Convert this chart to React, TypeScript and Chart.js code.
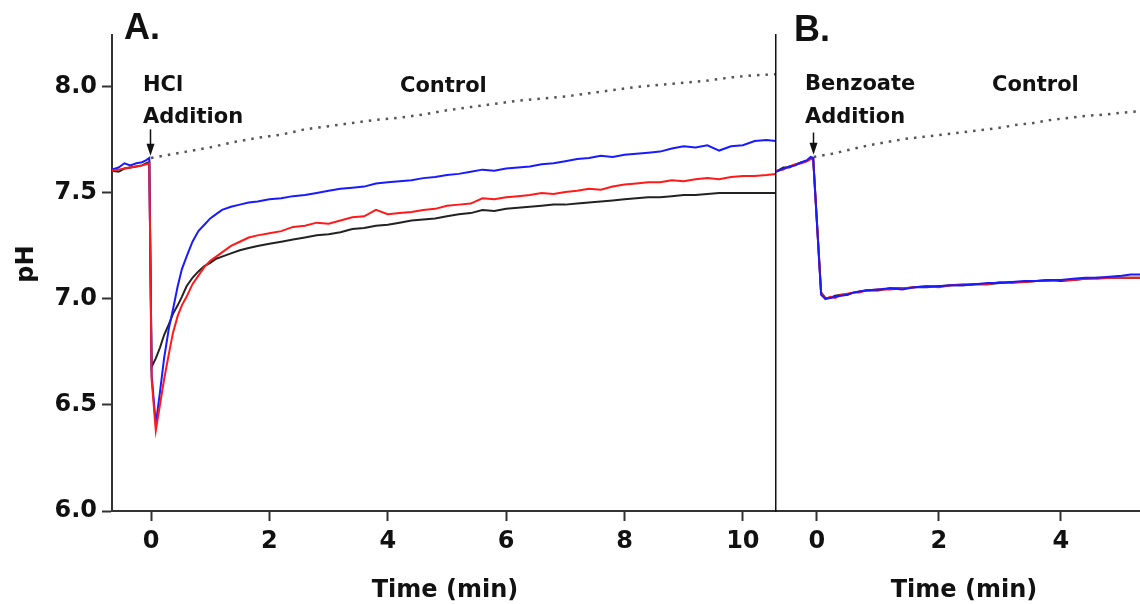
import React, { useEffect, useRef } from "react";
import { Chart, registerables } from "chart.js";
Chart.register(...registerables);

// ---------- Panel A data (time in min, pH) ----------
const timeA = [
  -0.66, -0.55, -0.45, -0.35, -0.25, -0.15, -0.08, -0.03,
  0.01, 0.08, 0.15, 0.22, 0.3, 0.37, 0.45, 0.52, 0.6, 0.7, 0.8, 0.9, 1.0, 1.1, 1.2, 1.35, 1.5, 1.65, 1.8,
  2.0, 2.2, 2.4, 2.6, 2.8, 3.0, 3.2, 3.4, 3.6, 3.8, 4.0, 4.2, 4.4, 4.6, 4.8, 5.0, 5.2, 5.4, 5.6, 5.8,
  6.0, 6.2, 6.4, 6.6, 6.8, 7.0, 7.2, 7.4, 7.6, 7.8, 8.0, 8.2, 8.4, 8.6, 8.8, 9.0, 9.2, 9.4, 9.6, 9.8,
  10.0, 10.2, 10.4, 10.56,
];
const redA = [
  7.605, 7.61, 7.615, 7.62, 7.625, 7.63, 7.635, 7.64,
  6.62, 6.38, 6.5, 6.62, 6.74, 6.84, 6.92, 6.97, 7.01, 7.07, 7.11, 7.15, 7.18, 7.2, 7.22, 7.25, 7.27, 7.29, 7.3,
  7.31, 7.32, 7.34, 7.345, 7.36, 7.355, 7.37, 7.385, 7.39, 7.42, 7.4, 7.405, 7.41, 7.42, 7.425, 7.44, 7.445, 7.45, 7.475, 7.47,
  7.48, 7.485, 7.49, 7.5, 7.495, 7.505, 7.51, 7.52, 7.515, 7.53, 7.54, 7.545, 7.55, 7.55, 7.56, 7.555, 7.565, 7.57, 7.565, 7.575,
  7.58, 7.58, 7.585, 7.59,
];
const blueA = [
  7.61, 7.62, 7.64, 7.63, 7.64, 7.645, 7.655, 7.665,
  6.64, 6.41, 6.56, 6.72, 6.86, 6.95, 7.06, 7.14, 7.2, 7.27, 7.32, 7.35, 7.38, 7.4, 7.42, 7.435, 7.445, 7.455, 7.46,
  7.47, 7.475, 7.485, 7.49, 7.5, 7.51, 7.52, 7.525, 7.53, 7.545, 7.55, 7.555, 7.56, 7.57, 7.575, 7.585, 7.59, 7.6, 7.61, 7.605,
  7.615, 7.62, 7.625, 7.635, 7.64, 7.65, 7.66, 7.665, 7.675, 7.67, 7.68, 7.685, 7.69, 7.695, 7.71, 7.72, 7.715, 7.725, 7.7, 7.72,
  7.725, 7.745, 7.75, 7.745,
];
const blackA = [
  7.605, 7.6, 7.615, 7.62, 7.625, 7.63, 7.64, 7.645,
  6.68, 6.72, 6.77, 6.83, 6.88, 6.93, 6.97, 7.01, 7.06, 7.1, 7.13, 7.155, 7.17, 7.19, 7.2, 7.215, 7.23, 7.24, 7.25,
  7.26, 7.27, 7.28, 7.29, 7.3, 7.305, 7.315, 7.33, 7.335, 7.345, 7.35, 7.36, 7.37, 7.375, 7.38, 7.39, 7.4, 7.405, 7.42, 7.415,
  7.425, 7.43, 7.435, 7.44, 7.445, 7.445, 7.45, 7.455, 7.46, 7.465, 7.47, 7.475, 7.48, 7.48, 7.485, 7.49, 7.49, 7.495, 7.5, 7.5,
  7.5, 7.5, 7.5, 7.5,
];
const ctrlTimeA = [0, 0.3, 0.6, 1.0, 1.4, 1.8, 2.2, 2.6, 3.0, 3.4, 3.8, 4.2, 4.6, 5.0, 5.4, 5.8, 6.2, 6.6, 7.0, 7.4, 7.8, 8.2, 8.6, 9.0, 9.4, 9.8, 10.2, 10.56];
const ctrlA = [7.665, 7.68, 7.695, 7.715, 7.74, 7.76, 7.775, 7.8, 7.815, 7.83, 7.845, 7.855, 7.87, 7.89, 7.905, 7.92, 7.935, 7.945, 7.955, 7.97, 7.985, 8.0, 8.01, 8.02, 8.03, 8.045, 8.055, 8.06];

// ---------- Panel B data ----------
const timeB = [
  -0.67, -0.55, -0.45, -0.35, -0.25, -0.16, -0.1, -0.06, 0.07, 0.14, 0.22, 0.3, 0.4, 0.5, 0.6, 0.7, 0.8,
  1.0, 1.2, 1.4, 1.6, 1.8, 2.0, 2.2, 2.4, 2.6, 2.8, 3.0, 3.2, 3.4, 3.6, 3.8, 4.0, 4.2, 4.4, 4.6, 4.8, 5.0, 5.15, 5.3,
];
const blueB = [
  7.6, 7.615, 7.625, 7.63, 7.645, 7.655, 7.67, 7.665, 7.02, 7.0, 7.005, 7.01, 7.015, 7.02, 7.03, 7.035, 7.04,
  7.045, 7.05, 7.045, 7.055, 7.06, 7.06, 7.065, 7.065, 7.07, 7.075, 7.075, 7.08, 7.085, 7.085, 7.09, 7.09, 7.095, 7.1, 7.1, 7.105, 7.11, 7.115, 7.115,
];
const redB = [
  7.605, 7.61, 7.625, 7.635, 7.64, 7.65, 7.66, 7.66, 7.03, 7.0, 7.01, 7.005, 7.02, 7.025, 7.03, 7.03, 7.04,
  7.045, 7.045, 7.05, 7.055, 7.06, 7.055, 7.065, 7.07, 7.07, 7.07, 7.08, 7.075, 7.08, 7.085, 7.085, 7.09, 7.09, 7.095, 7.095, 7.1, 7.1, 7.1, 7.1,
];
const blackB = [
  7.6, 7.62, 7.62, 7.635, 7.645, 7.65, 7.665, 7.66, 7.03, 7.005, 7.005, 7.015, 7.02, 7.02, 7.03, 7.035, 7.04,
  7.04, 7.05, 7.05, 7.055, 7.055, 7.06, 7.065, 7.065, 7.07, 7.07, 7.075, 7.08, 7.08, 7.085, 7.09, 7.085, 7.09, 7.095, 7.1, 7.1, 7.1, 7.1, 7.1,
];
const ctrlTimeB = [-0.05, 0.25, 0.55, 0.85, 1.15, 1.45, 1.75, 2.05, 2.35, 2.65, 2.95, 3.25, 3.55, 3.85, 4.15, 4.45, 4.75, 5.05, 5.3];
const ctrlB = [7.67, 7.685, 7.705, 7.725, 7.74, 7.755, 7.765, 7.775, 7.785, 7.795, 7.805, 7.82, 7.83, 7.845, 7.855, 7.865, 7.87, 7.88, 7.885];

// ---------- Axes ----------
const yTicks = [6.0, 6.5, 7.0, 7.5, 8.0];
const xTicksA = [0, 2, 4, 6, 8, 10];
const xTicksB = [0, 2, 4];
const yRange = [6.0, 8.245];
const xRangeA = [-0.66, 10.56];
const xRangeB = [-0.67, 5.3];

const FONT = '"DejaVu Sans", sans-serif';
const INK = "#111";

const pts = (t: number[], v: number[]) => t.map((x, i) => ({ x, y: v[i] }));

type Lbl = { text: string; x: number; y: number; size: number; align?: CanvasTextAlign; rotate?: boolean; family?: string };
type Arrow = { t: number; from: number; to: number };

function annotations(id: string, labels: Lbl[], arrows: Arrow[], offsetX: number) {
  return {
    id,
    afterDraw(chart: any) {
      const ctx: CanvasRenderingContext2D = chart.ctx;
      ctx.save();
      ctx.fillStyle = INK;
      for (const l of labels) {
        ctx.font = `bold ${l.size}px ${l.family ?? FONT}`;
        if (l.rotate) {
          ctx.save();
          ctx.translate(l.x - offsetX, l.y);
          ctx.rotate(-Math.PI / 2);
          ctx.textAlign = "center";
          ctx.textBaseline = "middle";
          ctx.fillText(l.text, 0, 0);
          ctx.restore();
        } else {
          ctx.textAlign = l.align ?? "left";
          ctx.textBaseline = "alphabetic";
          ctx.fillText(l.text, l.x - offsetX, l.y);
        }
      }
      const xs = chart.scales.x;
      const ys = chart.scales.y;
      for (const a of arrows) {
        const px = Math.round(xs.getPixelForValue(a.t)) + 0.5;
        const y0 = ys.getPixelForValue(a.from);
        const y1 = ys.getPixelForValue(a.to);
        ctx.strokeStyle = INK;
        ctx.lineWidth = 1.5;
        ctx.beginPath();
        ctx.moveTo(px, y0);
        ctx.lineTo(px, y1 - 8);
        ctx.stroke();
        ctx.beginPath();
        ctx.moveTo(px - 4, y1 - 12);
        ctx.lineTo(px + 4, y1 - 12);
        ctx.lineTo(px, y1);
        ctx.closePath();
        ctx.fill();
      }
      ctx.restore();
    },
  };
}

const tickFont = { family: FONT, size: 24, weight: "bold" as const };

function xAxis(range: number[], ticks: number[]) {
  return {
    type: "linear" as const,
    min: range[0],
    max: range[1],
    afterBuildTicks: (s: any) => {
      s.ticks = ticks.map((v) => ({ value: v }));
    },
    afterFit: (s: any) => {
      s.height = 93;
    },
    ticks: { color: INK, font: tickFont, padding: 6, maxRotation: 0, autoSkip: false, callback: (v: any) => String(v) },
    grid: { display: true, drawOnChartArea: false, drawTicks: true, tickLength: 10, tickWidth: 2, tickColor: "#333" },
    border: { display: true, color: "#333", width: 2 },
  };
}

function lineDs(label: string, data: any[], color: string, dotted = false) {
  return {
    label,
    data,
    borderColor: color,
    backgroundColor: color,
    borderWidth: dotted ? 2.5 : 2,
    borderDash: dotted ? [2.5, 6] : [],
    pointRadius: 0,
    tension: 0,
    fill: false,
  };
}

export default function App() {
  const refA = useRef<HTMLCanvasElement>(null);
  const refB = useRef<HTMLCanvasElement>(null);

  useEffect(() => {
    const labelsA: Lbl[] = [
      { text: "A.", x: 124, y: 39, size: 36, family: '"Liberation Sans", Arial, sans-serif' },
      { text: "HCl", x: 143, y: 91, size: 21 },
      { text: "Addition", x: 143, y: 123, size: 21 },
      { text: "Control", x: 400, y: 92, size: 21 },
      { text: "pH", x: 27, y: 264, size: 24, rotate: true },
      { text: "Time (min)", x: 445, y: 597, size: 24, align: "center" },
    ];
    const labelsB: Lbl[] = [
      { text: "B.", x: 794, y: 41, size: 36, family: '"Liberation Sans", Arial, sans-serif' },
      { text: "Benzoate", x: 805, y: 90, size: 21 },
      { text: "Addition", x: 805, y: 123, size: 21 },
      { text: "Control", x: 992, y: 91, size: 21 },
      { text: "Time (min)", x: 964, y: 597, size: 24, align: "center" },
    ];

    const chartA = new Chart(refA.current!, {
      type: "line",
      data: {
        datasets: [
          lineDs("Red", pts(timeA, redA), "#ff1a1a"),
          lineDs("Blue", pts(timeA, blueA), "#1a1aff"),
          lineDs("Black", pts(timeA, blackA), "#222222"),
          lineDs("Control", pts(ctrlTimeA, ctrlA), "#555555", true),
        ],
      },
      options: {
        animation: false,
        responsive: false,
        layout: { padding: { top: 35, right: 0, bottom: 0, left: 0 } },
        plugins: { legend: { display: false }, tooltip: { enabled: false } },
        scales: {
          x: xAxis(xRangeA, xTicksA),
          y: {
            type: "linear",
            min: yRange[0],
            max: yRange[1],
            afterBuildTicks: (s: any) => {
              s.ticks = yTicks.map((v) => ({ value: v }));
            },
            afterFit: (s: any) => {
              s.width = 112;
            },
            ticks: { color: INK, font: tickFont, padding: 5, callback: (v: any) => Number(v).toFixed(1) },
            grid: { display: true, drawOnChartArea: false, drawTicks: true, tickLength: 10, tickWidth: 2, tickColor: "#333" },
            border: { display: true, color: "#333", width: 2 },
          },
        },
      },
      plugins: [annotations("annA", labelsA, [{ t: -0.02, from: 7.8, to: 7.675 }], 0)],
    } as any);

    const chartB = new Chart(refB.current!, {
      type: "line",
      data: {
        datasets: [
          lineDs("Blue", pts(timeB, blueB), "#1a1aff"),
          lineDs("Red", pts(timeB, redB), "#ff1a1a"),
          lineDs("Black", pts(timeB, blackB), "#222222"),
          lineDs("Control", pts(ctrlTimeB, ctrlB), "#555555", true),
        ],
      },
      options: {
        animation: false,
        responsive: false,
        layout: { padding: { top: 35, right: 0, bottom: 0, left: 0 } },
        plugins: { legend: { display: false }, tooltip: { enabled: false } },
        scales: {
          x: xAxis(xRangeB, xTicksB),
          y: {
            type: "linear",
            min: yRange[0],
            max: yRange[1],
            afterBuildTicks: (s: any) => {
              s.ticks = yTicks.map((v) => ({ value: v }));
            },
            afterFit: (s: any) => {
              s.width = 10;
            },
            ticks: { display: false },
            grid: { display: false },
            border: { display: true, color: "#111", width: 1.5 },
          },
        },
      },
      plugins: [annotations("annB", labelsB, [{ t: -0.07, from: 7.785, to: 7.68 }], 766)],
    } as any);

    return () => {
      chartA.destroy();
      chartB.destroy();
    };
  }, []);

  return (
    <div style={{ position: "fixed", left: 0, top: 0, width: 1140, height: 604, background: "#fff", overflow: "hidden" }}>
      <canvas ref={refA} width={776} height={604} style={{ position: "absolute", left: 0, top: 0, width: 776, height: 604 }} />
      <canvas ref={refB} width={374} height={604} style={{ position: "absolute", left: 766, top: 0, width: 374, height: 604 }} />
    </div>
  );
}
